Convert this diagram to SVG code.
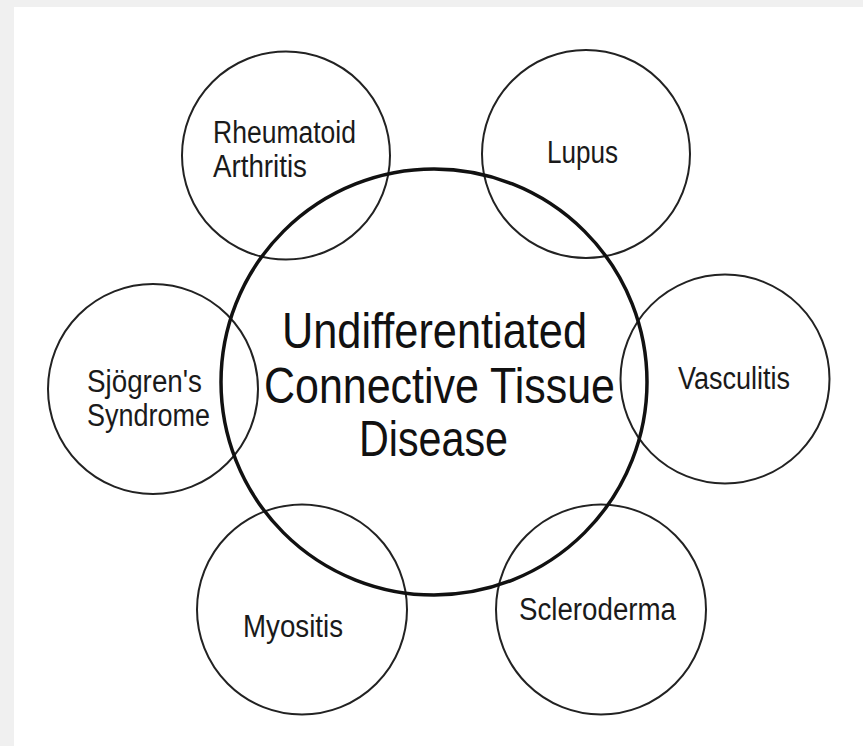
<svg xmlns="http://www.w3.org/2000/svg" width="863" height="746" viewBox="0 0 863 746">
<style>
.bg{fill:#f0f0f0}
.panel{fill:#ffffff}
.sm{fill:none;stroke:#222222;stroke-width:2}
.big{fill:none;stroke:#111111;stroke-width:3.5}
.t{font-family:"Liberation Sans","DejaVu Sans",sans-serif;fill:#1a1a1a;font-size:31px}
.tb{font-family:"Liberation Sans","DejaVu Sans",sans-serif;fill:#111111;font-size:50px}
</style>
<rect class="bg" x="0" y="0" width="863" height="746"/>
<rect class="panel" x="14" y="7" width="849" height="739"/>
<g id="connectors"></g>
<g id="node-ra">
<circle class="sm" cx="286" cy="155.5" r="104"/>
<text class="t" x="213" y="143" textLength="143" lengthAdjust="spacingAndGlyphs">Rheumatoid</text>
<text class="t" x="213" y="177" textLength="94" lengthAdjust="spacingAndGlyphs">Arthritis</text>
</g>
<g id="node-lupus">
<circle class="sm" cx="586" cy="154" r="104"/>
<text class="t" x="547" y="163" textLength="71" lengthAdjust="spacingAndGlyphs">Lupus</text>
</g>
<g id="node-vasculitis">
<circle class="sm" cx="725" cy="379" r="104.5"/>
<text class="t" x="678" y="389" textLength="112" lengthAdjust="spacingAndGlyphs">Vasculitis</text>
</g>
<g id="node-sjogren">
<circle class="sm" cx="153" cy="389" r="105"/>
<text class="t" x="87" y="392" textLength="115" lengthAdjust="spacingAndGlyphs">Sjögren's</text>
<text class="t" x="87" y="426" textLength="123" lengthAdjust="spacingAndGlyphs">Syndrome</text>
</g>
<g id="node-myositis">
<circle class="sm" cx="302" cy="609.5" r="105"/>
<text class="t" x="243" y="637" textLength="100" lengthAdjust="spacingAndGlyphs">Myositis</text>
</g>
<g id="node-scleroderma">
<circle class="sm" cx="601" cy="609.5" r="105"/>
<text class="t" x="519" y="620" textLength="157" lengthAdjust="spacingAndGlyphs">Scleroderma</text>
</g>
<g id="node-uctd">
<circle class="big" cx="434" cy="382" r="213"/>
<text class="tb" x="282" y="348" textLength="305" lengthAdjust="spacingAndGlyphs">Undifferentiated</text>
<text class="tb" x="264" y="403" textLength="351" lengthAdjust="spacingAndGlyphs">Connective Tissue</text>
<text class="tb" x="359" y="456" textLength="149" lengthAdjust="spacingAndGlyphs">Disease</text>
</g>
</svg>
